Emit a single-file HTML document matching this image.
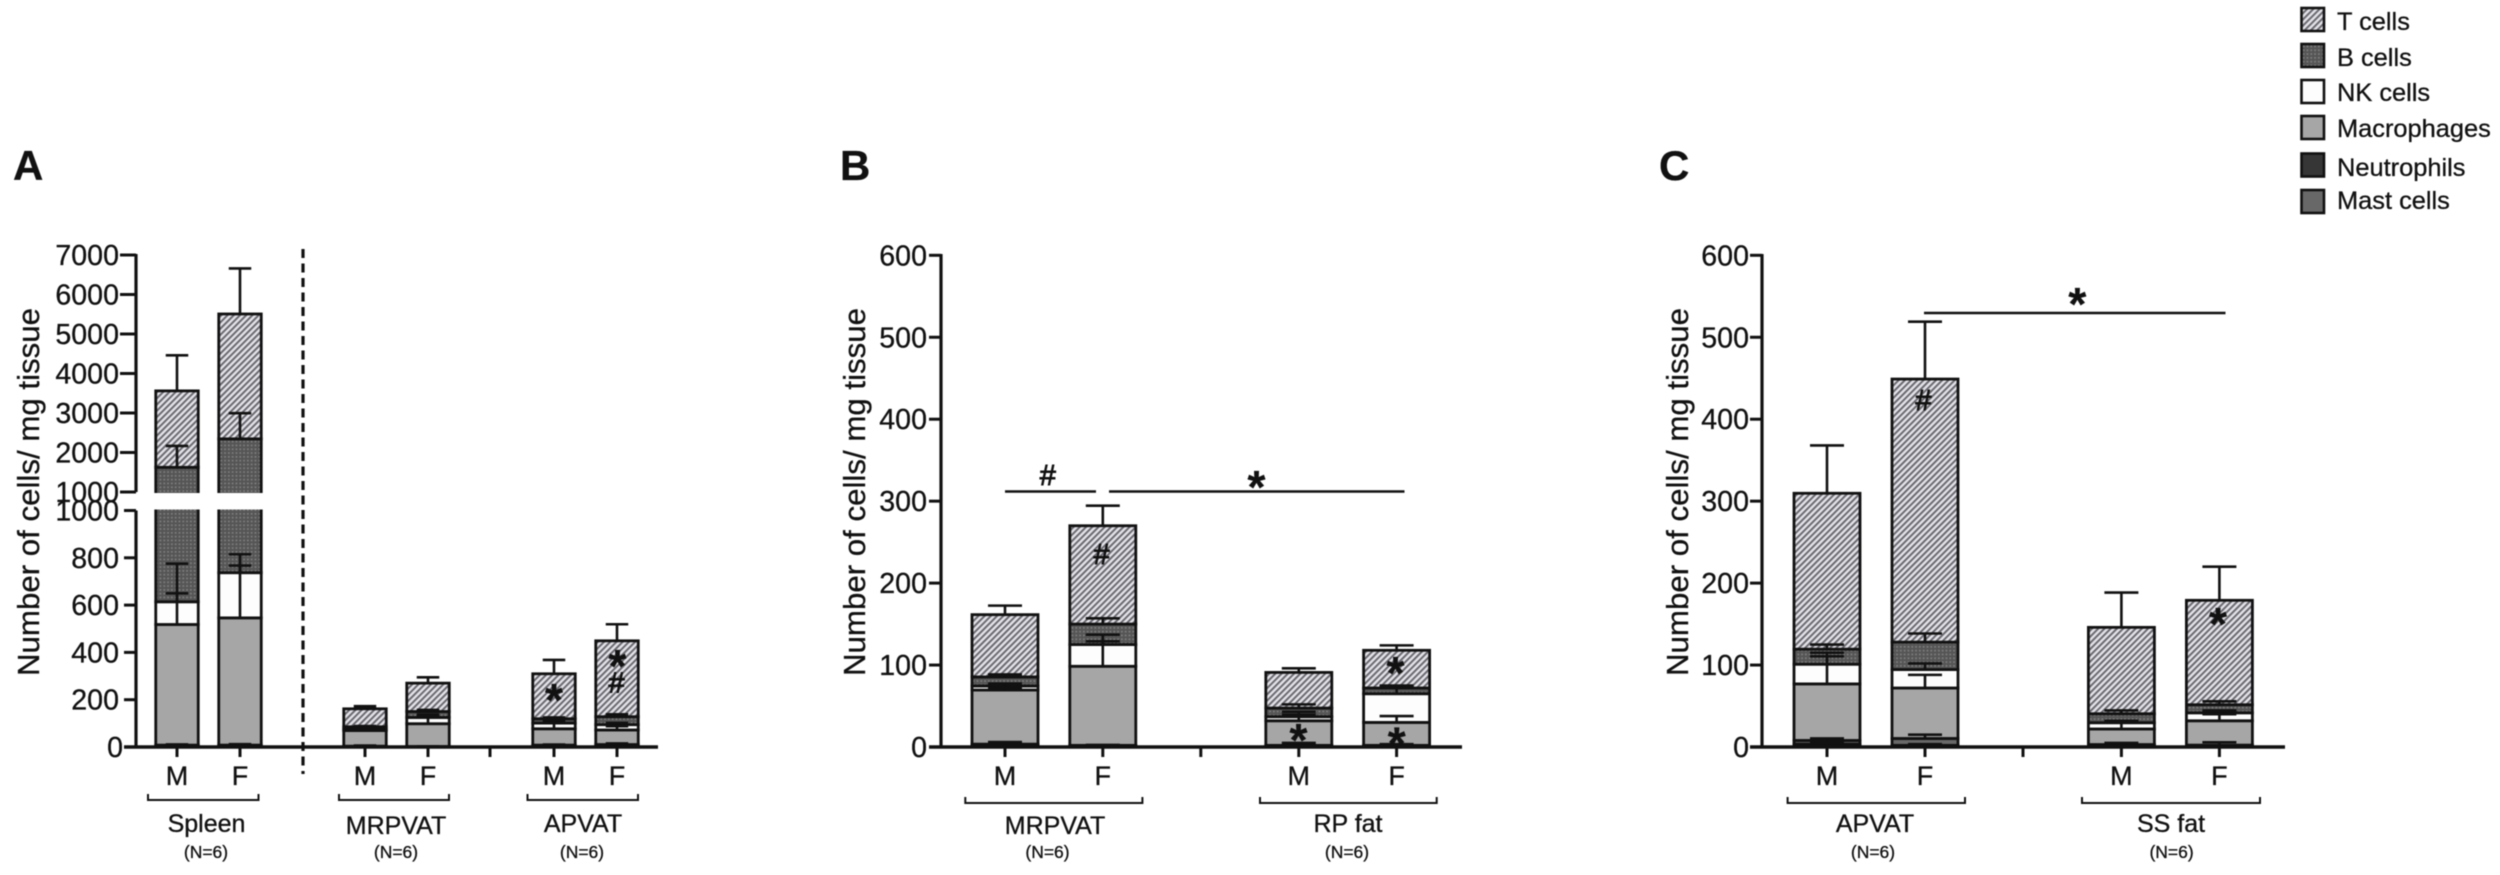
<!DOCTYPE html>
<html lang="en">
<head>
<meta charset="utf-8">
<title>Immune cell numbers per mg tissue</title>
<style>
html,body{margin:0;padding:0;background:#fff;width:2500px;height:875px;overflow:hidden}
svg{display:block;filter:blur(0.4px)}
text{font-family:"Liberation Sans",sans-serif;fill:#111;stroke:#111;stroke-width:0.3px}
</style>
</head>
<body>
<svg id="chart" xmlns="http://www.w3.org/2000/svg" width="2500" height="875" viewBox="0 0 2500 875">
<defs>
<pattern id="hatch-t" patternUnits="userSpaceOnUse" width="4.4" height="4.4" patternTransform="rotate(45)">
<rect width="4.4" height="4.4" fill="#e2e2e8"></rect>
<rect width="2" height="4.4" fill="#6a6a70"></rect>
</pattern>
<pattern id="dots-b" patternUnits="userSpaceOnUse" width="3.8" height="3.8">
<rect width="3.8" height="3.8" fill="#555"></rect>
<rect width="1.7" height="1.7" fill="#808080"></rect>
</pattern>
</defs>
</svg>
<script>
// ---------- shared data ----------
const cellTypes = ['T cells', 'B cells', 'NK cells', 'Macrophages', 'Neutrophils', 'Mast cells'];
const sexes = ['M', 'F'];

// ---------- panel A data (order: Spleen M,F, MRPVAT M,F, APVAT M,F) ----------
const aTissues = ['Spleen', 'MRPVAT', 'APVAT'];
const aTicksUpper = [7000, 6000, 5000, 4000, 3000, 2000, 1000];
const aTicksLower = [1000, 800, 600, 400, 200, 0];
const aNeut = [3, 3, 2, 1, 3.5, 2];
const aMast = [5, 5, 1.5, 1, 4.5, 8.4];
const aMac = [510, 538, 66, 96.5, 69, 61.6];
const aNK = [96, 191, 5, 26.5, 24, 22.5];
const aB = [1011, 1609, 11, 25, 18.4, 33.5];
const aT = [1935, 3161, 76, 120, 190.2, 321];
const aNeutErr = [2, 2, 1, 0.5, 1.5, 1.5];
const aMastErr = [3, 4, 2.5, 0.5, 2.4, 4.6];
const aMacErr = [132, 221, 2.5, 30.5, 33.7, 16];
const aNKErr = [161, 78, 3, 12, 14, 7.5];
const aBErr = [541, 649, 3, 7, 5.6, 10.5];
const aTErr = [900, 1153, 11, 24.5, 58.4, 70];

// ---------- panel B data (order: MRPVAT M,F, RP fat M,F) ----------
const bTissues = ['MRPVAT', 'RP fat'];
const bTicks = [600, 500, 400, 300, 200, 100, 0];
const bNeut = [2, 1, 1, 1];
const bMast = [1.5, 1, 1, 1];
const bMac = [66, 96.5, 30, 28];
const bNK = [5, 26.5, 5, 35];
const bB = [11, 25, 10.5, 7];
const bT = [76, 120, 43.5, 46];
const bNeutErr = [1, 0.5, 0.5, 0.5];
const bMastErr = [2.5, 0.5, 3, 1.5];
const bMacErr = [2.5, 30.5, 7.4, 7.7];
const bNKErr = [3, 12, 6, 8.6];
const bBErr = [3, 7, 4.5, 3];
const bTErr = [11, 24.5, 5, 6];

// ---------- panel C data (order: APVAT M,F, SS fat M,F) ----------
const cTissues = ['APVAT', 'SS fat'];
const cTicks = [600, 500, 400, 300, 200, 100, 0];
const cNeut = [3.5, 2, 1.5, 1];
const cMast = [4.5, 8.4, 1.5, 1.3];
const cMac = [69, 61.6, 19, 29.7];
const cNK = [24, 22.5, 7.6, 9.7];
const cB = [18.4, 33.5, 11, 9.9];
const cT = [190.2, 321, 105.4, 127.4];
const cNeutErr = [1.5, 1.5, 0.5, 0.5];
const cMastErr = [2.4, 4.6, 2, 3.5];
const cMacErr = [33.7, 16, 10, 8];
const cNKErr = [14, 7.5, 1.7, 3];
const cBErr = [5.6, 10.5, 4, 4.1];
const cTErr = [58.4, 70, 42.4, 41];

// ---------- styles ----------
const fills = {
  'T cells': 'url(#hatch-t)',
  'B cells': 'url(#dots-b)',
  'NK cells': '#fdfdfd',
  'Macrophages': '#a6a6a6',
  'Neutrophils': '#363636',
  'Mast cells': '#686868'
};
const INK = '#111';
const svg = document.getElementById('chart');
const NS = 'http://www.w3.org/2000/svg';

function make(parent, tag, attrs, txt) {
  const el = document.createElementNS(NS, tag);
  for (const k in attrs) el.setAttribute(k, attrs[k]);
  if (txt !== undefined) el.textContent = txt;
  parent.appendChild(el);
  return el;
}
function slug(s) {
  return s.toLowerCase().replace(/[^a-z0-9]+/g, '-').replace(/^-|-$/g, '');
}
function line(parent, x1, y1, x2, y2, w) {
  return make(parent, 'line', { x1: x1, y1: y1, x2: x2, y2: y2, stroke: INK, 'stroke-width': w });
}

// symbol annotations: positioned by the visual centre of the glyph
function symbol(parent, ch, cx, cy) {
  const isStar = ch === '*';
  const fs = isStar ? 46 : 29;
  const base = isStar ? cy + fs * 0.52 : cy + fs * 0.35;
  const el = make(parent, 'text', {
    x: cx, y: base, 'font-size': fs, 'font-weight': isStar ? 'bold' : 'normal', 'text-anchor': 'middle',
    style: isStar ? 'stroke-width:0.3px' : 'stroke-width:0.9px'
  }, ch);
  
  
}

function drawPanel(p) {
  const g = make(svg, 'g', {});
  
  

  const letter = make(g, 'text', { x: p.letterX, y: 180, 'font-size': 42, 'font-weight': 'bold' }, p.letter);
  
  

  const title = make(g, 'text', {
    x: 0, y: 0, 'font-size': 31, 'text-anchor': 'middle', textLength: 368, lengthAdjust: 'spacingAndGlyphs',
    transform: 'translate(' + p.titleX + ',492) rotate(-90)'
  }, 'Number of cells/ mg tissue');
  
  

  // bar centres
  const centers = [];
  p.groupStarts.forEach(function (s) {
    sexes.forEach(function (_, j) { centers.push(s + j * p.step); });
  });

  // stacked bars, bottom to top
  const stack = [
    ['Neutrophils', p.neut, p.neutErr],
    ['Mast cells', p.mast, p.mastErr],
    ['Macrophages', p.mac, p.macErr],
    ['NK cells', p.nk, p.nkErr],
    ['B cells', p.b, p.bErr],
    ['T cells', p.t, p.tErr]
  ];
  const errorsToDraw = [];
  centers.forEach(function (cx, i) {
    let base = 0;
    stack.forEach(function (s) {
      const top = base + s[1][i];
      const y0 = p.y(base), y1 = p.y(top);
      const r = make(g, 'rect', {
        x: cx - p.barW / 2, y: y1, width: p.barW, height: Math.max(y0 - y1, 0.1),
        fill: fills[s[0]], stroke: INK, 'stroke-width': 2.8
      });
      
      
      errorsToDraw.push([cx, top, top + s[2][i], s[0], i]);
      base = top;
    });
  });

  // axis break for the two-scale panel
  if (p.breakGap) {
    const gap = make(g, 'rect', {
      x: p.axisX - 2, y: p.breakGap[0], width: p.breakGap[2], height: p.breakGap[1] - p.breakGap[0], fill: '#fff'
    });
    
    
  }

  // error bars
  errorsToDraw.forEach(function (e) {
    const cx = e[0], yA = p.y(e[1]), yB = p.y(e[2]);
    const v = line(g, cx, yA, cx, yB, 2.6);
    
    
    const c = line(g, cx - p.capW / 2, yB, cx + p.capW / 2, yB, 2.6);
    
    
  });

  // y axis segments and ticks
  p.axisSegments.forEach(function (seg) {
    const a = line(g, p.axisX, seg[0], p.axisX, seg[1], 3.2);
    
    
  });
  p.tickSets.forEach(function (set) {
    set.values.forEach(function (v) {
      const yy = set.y(v);
      const t = line(g, p.axisX - set.len, yy, p.axisX + (set.over || 0), yy, 3);
      
      
      const lab = make(g, 'text', {
        x: p.labelRight, y: yy + set.dy, 'font-size': 28.6, 'text-anchor': 'end'
      }, String(v));
      
      
    });
  });

  // x axis
  const xa = line(g, p.axisX - p.zeroLen, p.y(0), p.xEnd, p.y(0), 3.4);
  
  
  centers.forEach(function (cx, i) {
    const t = line(g, cx, p.y(0), cx, p.y(0) + 10, 3);
    
    
    const lab = make(g, 'text', { x: cx, y: 785, 'font-size': 27, 'text-anchor': 'middle' }, sexes[i % 2]);
    
    
  });
  p.midTicks.forEach(function (mx) {
    const t = line(g, mx, p.y(0), mx, p.y(0) + 10, 3);
    
    
  });

  // brackets and tissue labels
  p.tissues.forEach(function (name, i) {
    const b = p.brackets[i];
    const br = make(g, 'path', {
      d: 'M' + b.x0 + ' ' + (p.bracketY - 6) + 'V' + p.bracketY + 'H' + b.x1 + 'V' + (p.bracketY - 6),
      fill: 'none', stroke: INK, 'stroke-width': 2
    });
    
    
    const lab = make(g, 'text', { x: b.nameX, y: b.nameY, 'font-size': 25, 'text-anchor': 'middle' }, name);
    
    
    const n = make(g, 'text', { x: b.nX, y: 858, 'font-size': 17.5, 'text-anchor': 'middle' }, '(N=6)');
    
    
  });

  // significance lines and symbols
  p.sigLines.forEach(function (s) {
    const l = line(g, s[0], s[2], s[1], s[2], 2.4);
    
    
  });
  p.symbols.forEach(function (s) { symbol(g, s[0], s[1], s[2]); });
}

// ---------- scales ----------
function yA(v) {
  return v <= 1000 ? 747 - v * 0.2365 : 492 - (v - 1000) * 0.0395;
}
function yAUpper(v) { return 492 - (v - 1000) * 0.0395; }
function yAB(v) { return 747 - v * 0.8195; }

// ---------- panels ----------
drawPanel({
  letter: 'A', letterX: 13, titleX: 39, axisX: 136, labelRight: 119, zeroLen: 12, xEnd: 658,
  y: yA, barW: 42.5, capW: 22.5, groupStarts: [177, 365, 554], step: 63,
  mast: aMast, neut: aNeut, mac: aMac, nk: aNK, b: aB, t: aT,
  mastErr: aMastErr, neutErr: aNeutErr, macErr: aMacErr, nkErr: aNKErr, bErr: aBErr, tErr: aTErr,
  breakGap: [493, 509.5, 165],
  axisSegments: [[254, 492], [510.5, 747]],
  tickSets: [
    { values: aTicksUpper, y: yAUpper, len: 16, dy: 10 },
    { values: aTicksLower.slice(0, 5), y: yA, len: 12, over: 0, dy: 10 }
  ],
  midTicks: [490],
  tissues: aTissues, bracketY: 800,
  brackets: [
    { x0: 148, x1: 258.5, nameX: 206.5, nameY: 832, nX: 206 },
    { x0: 339, x1: 449, nameX: 396, nameY: 834, nX: 396 },
    { x0: 527.5, x1: 638, nameX: 583, nameY: 832, nX: 582 }
  ],
  sigLines: [],
  symbols: [['*', 554, 692], ['*', 617.5, 658], ['#', 616.6, 682.5]]
});

drawPanel({
  letter: 'B', letterX: 840, titleX: 865, axisX: 941, labelRight: 927, zeroLen: 12, xEnd: 1462,
  y: yAB, barW: 66, capW: 34, groupStarts: [1005, 1298.8], step: 97.8,
  mast: bMast, neut: bNeut, mac: bMac, nk: bNK, b: bB, t: bT,
  mastErr: bMastErr, neutErr: bNeutErr, macErr: bMacErr, nkErr: bNKErr, bErr: bBErr, tErr: bTErr,
  axisSegments: [[254, 747]],
  tickSets: [{ values: bTicks.slice(0, 6), y: yAB, len: 12, dy: 10 }],
  midTicks: [1200.8],
  tissues: bTissues, bracketY: 803,
  brackets: [
    { x0: 965.3, x1: 1142.4, nameX: 1055, nameY: 834, nX: 1047.5 },
    { x0: 1260, x1: 1436.7, nameX: 1348, nameY: 832, nX: 1347 }
  ],
  sigLines: [[1005, 1096, 491.5], [1109, 1404.5, 491.5]],
  symbols: [['#', 1047.8, 475], ['*', 1256.5, 479], ['#', 1101.6, 554], ['*', 1395.5, 665], ['*', 1298.4, 732], ['*', 1396.7, 735.6]]
});

drawPanel({
  letter: 'C', letterX: 1659, titleX: 1688, axisX: 1762, labelRight: 1749, zeroLen: 12, xEnd: 2285,
  y: yAB, barW: 66, capW: 34, groupStarts: [1827, 2121.4], step: 98,
  mast: cMast, neut: cNeut, mac: cMac, nk: cNK, b: cB, t: cT,
  mastErr: cMastErr, neutErr: cNeutErr, macErr: cMacErr, nkErr: cNKErr, bErr: cBErr, tErr: cTErr,
  axisSegments: [[254, 747]],
  tickSets: [{ values: cTicks.slice(0, 6), y: yAB, len: 12, dy: 10 }],
  midTicks: [2023],
  tissues: cTissues, bracketY: 803,
  brackets: [
    { x0: 1787.6, x1: 1965, nameX: 1875, nameY: 832, nX: 1873 },
    { x0: 2082, x1: 2260, nameX: 2171, nameY: 832, nX: 2171.6 }
  ],
  sigLines: [[1924, 2225.5, 313]],
  symbols: [['*', 2077.3, 296], ['#', 1923.5, 400], ['*', 2218, 616]]
});

// zero labels (drawn at the left end of each x axis)
[[123, 'A'], [927, 'B'], [1749, 'C']].forEach(function (z) {
  const t = make(svg, 'text', { x: z[0], y: 757, 'font-size': 28.6, 'text-anchor': 'end' }, '0');
  
  
});

// panel A dashed divider
const divider = make(svg, 'line', {
  x1: 303, y1: 249, x2: 303, y2: 774, stroke: INK, 'stroke-width': 3.2, 'stroke-dasharray': '9 5.5'
});



// ---------- legend ----------
const legend = make(svg, 'g', {});


const legendRowTop = [8, 44, 80, 116, 153.5, 190];
const legendBaseline = [30, 66, 101, 137, 176, 209];
cellTypes.forEach(function (name, i) {
  const sw = make(legend, 'rect', {
    x: 2301.5, y: legendRowTop[i], width: 22.5, height: 23, fill: fills[name], stroke: INK, 'stroke-width': 2.6
  });
  
  
  const tx = make(legend, 'text', { x: 2337, y: legendBaseline[i], 'font-size': 25.4 }, name);
  
  
});
</script>
</body>
</html>
